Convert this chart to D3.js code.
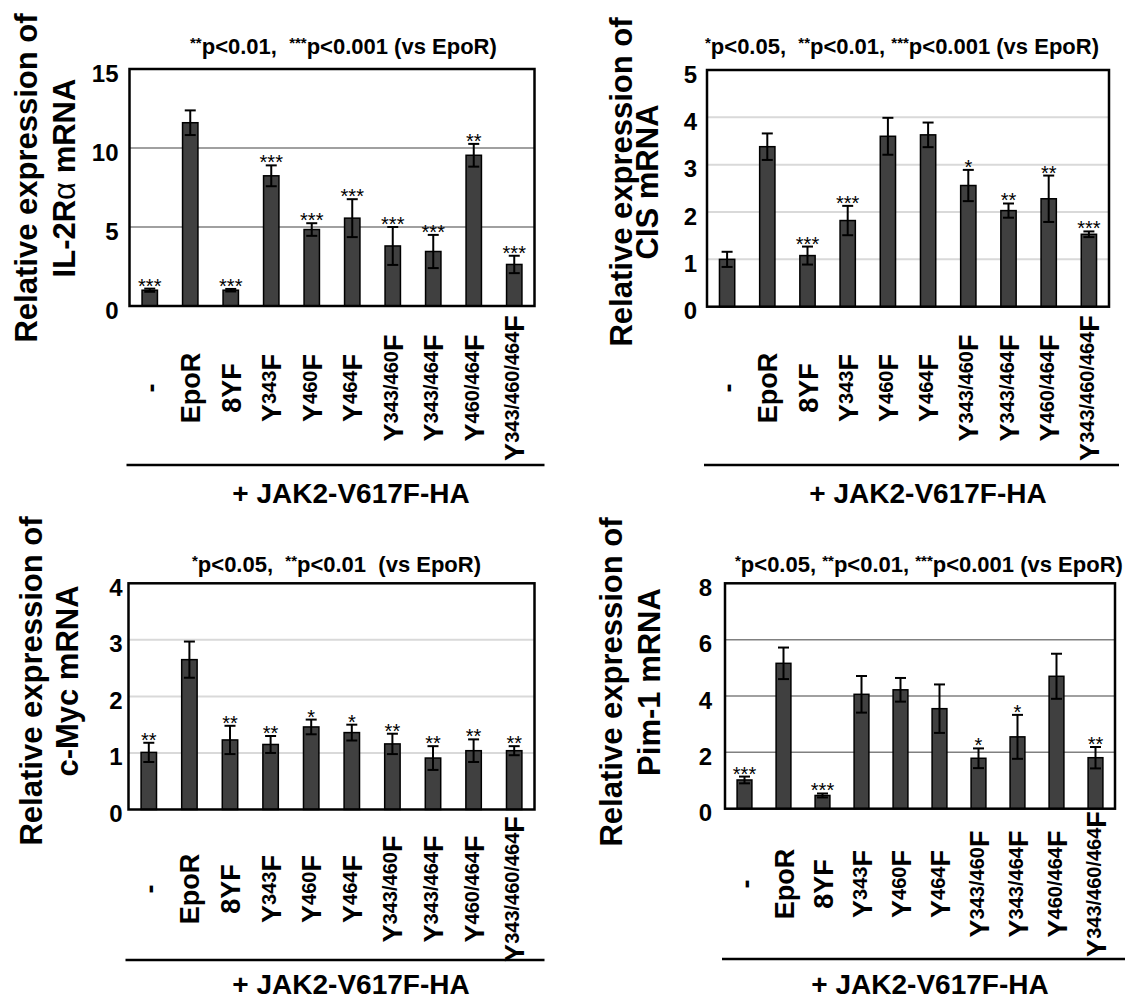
<!DOCTYPE html>
<html>
<head>
<meta charset="utf-8">
<script src="https://cdn.jsdelivr.net/npm/d3@7"></script>
<style>
  body { margin: 0; background: #fff; }
  svg { display: block; font-family: "Liberation Sans", Arial, sans-serif; }
  text { white-space: pre; }
</style>
</head>
<body>
<div id="chart"></div>
<script>
// categories (mutants), shared by all four panels
const categories = ["-", "EpoR", "8YF", "Y343F", "Y460F", "Y464F", "Y343/460F", "Y343/464F", "Y460/464F", "Y343/460/464F"];

// IL-2Ralpha
const il2raMean = [1.0, 11.6, 1.0, 8.24, 4.84, 5.56, 3.8, 3.45, 9.54, 2.63];
const il2raErr  = [0.1, 0.78, 0.08, 0.66, 0.4, 1.2, 1.2, 1.05, 0.72, 0.55];
const il2raSig  = ["***", "", "***", "***", "***", "***", "***", "***", "**", "***"];
const il2raTicks = [0, 5, 10, 15];

// CIS
const cisMean = [1.0, 3.38, 1.08, 1.82, 3.6, 3.63, 2.56, 2.03, 2.28, 1.53];
const cisErr  = [0.16, 0.28, 0.19, 0.31, 0.39, 0.26, 0.33, 0.15, 0.49, 0.06];
const cisSig  = ["", "", "***", "***", "", "", "*", "**", "**", "***"];
const cisTicks = [0, 1, 2, 3, 4, 5];

// c-Myc
const mycMean = [1.01, 2.65, 1.23, 1.15, 1.46, 1.36, 1.16, 0.91, 1.04, 1.04];
const mycErr  = [0.17, 0.32, 0.25, 0.15, 0.13, 0.14, 0.18, 0.21, 0.2, 0.08];
const mycSig  = ["**", "", "**", "**", "*", "*", "**", "**", "**", "**"];
const mycTicks = [0, 1, 2, 3, 4];

// Pim-1
const pimMean = [1.02, 5.16, 0.47, 4.06, 4.22, 3.55, 1.79, 2.55, 4.7, 1.81];
const pimErr  = [0.12, 0.56, 0.07, 0.65, 0.42, 0.86, 0.35, 0.78, 0.8, 0.38];
const pimSig  = ["***", "", "***", "", "", "", "*", "*", "", "**"];
const pimTicks = [0, 2, 4, 6, 8];

const width = 1136, height = 1000;

let svg = d3.select("#chart").append("svg")
  .attr("width", width)
  .attr("height", height)
  .attr("viewBox", `0 0 ${width} ${height}`);

svg.append("rect").attr("width", width).attr("height", height).attr("fill", "#fff");

// writes "**p<0.01, ..." with the asterisks small and raised
let addRuns = function(text, str, big, small) {
  let parts = str.split(/(\*+)/).filter(s => s.length);
  let raised = false;
  parts.forEach(s => {
    let isStar = s[0] === "*";
    let t = text.append("tspan").text(s).attr("font-size", isStar ? small : big);
    if (isStar && !raised) { t.attr("dy", -6); raised = true; }
    else if (!isStar && raised) { t.attr("dy", 6); raised = false; }
  });
};

let drawPanel = function(p) {
  let x = d3.scaleBand()
    .domain(categories)
    .range([p.left, p.right])
    .paddingInner(0.62)
    .paddingOuter(0.31);
  let y = d3.scaleLinear()
    .domain([0, d3.max(p.ticks)])
    .range([p.bottom, p.top]);
  let g = svg.append("g");

  // horizontal gridlines (not at 0 or the top)
  g.selectAll("line.grid")
    .data(p.ticks.slice(1, -1))
    .join("line")
    .attr("class", "grid")
    .attr("x1", p.left).attr("x2", p.right)
    .attr("y1", d => y(d)).attr("y2", d => y(d))
    .attr("stroke", p.gridColor)
    .attr("stroke-width", p.gridWidth);

  let rows = categories.map((c, i) => ({ c: c, v: p.mean[i], e: p.err[i], s: p.sig[i] }));

  g.selectAll("rect.bar")
    .data(rows)
    .join("rect")
    .attr("class", "bar")
    .attr("x", d => x(d.c))
    .attr("width", x.bandwidth())
    .attr("y", d => y(d.v))
    .attr("height", d => y(0) - y(d.v))
    .attr("fill", "#404040")
    .attr("stroke", "#000")
    .attr("stroke-width", 1.5);

  // error bars
  let cap = 5.5;
  let eb = g.selectAll("g.err").data(rows).join("g").attr("class", "err")
    .attr("stroke", "#000").attr("stroke-width", 2);
  eb.append("line")
    .attr("x1", d => x(d.c) + x.bandwidth() / 2).attr("x2", d => x(d.c) + x.bandwidth() / 2)
    .attr("y1", d => y(d.v - d.e)).attr("y2", d => y(d.v + d.e));
  eb.append("line")
    .attr("x1", d => x(d.c) + x.bandwidth() / 2 - cap).attr("x2", d => x(d.c) + x.bandwidth() / 2 + cap)
    .attr("y1", d => y(d.v + d.e)).attr("y2", d => y(d.v + d.e));
  eb.append("line")
    .attr("x1", d => x(d.c) + x.bandwidth() / 2 - cap).attr("x2", d => x(d.c) + x.bandwidth() / 2 + cap)
    .attr("y1", d => y(d.v - d.e)).attr("y2", d => y(d.v - d.e));

  // significance stars
  g.selectAll("text.sig")
    .data(rows.filter(d => d.s))
    .join("text")
    .attr("class", "sig")
    .attr("x", d => x(d.c) + x.bandwidth() / 2)
    .attr("y", d => y(d.v + d.e) + 4)
    .attr("text-anchor", "middle")
    .attr("font-size", 20)
    .text(d => d.s);

  // plot frame
  g.append("rect")
    .attr("x", p.left).attr("y", p.top)
    .attr("width", p.right - p.left).attr("height", p.bottom - p.top)
    .attr("fill", "none").attr("stroke", "#000").attr("stroke-width", 2.5);

  // y axis numbers
  let ax = g.append("g")
    .attr("transform", `translate(${p.left},0)`)
    .call(d3.axisLeft(y).tickValues(p.ticks).tickSize(0).tickPadding(p.tickPad).tickFormat(d3.format("d")));
  ax.select(".domain").remove();
  ax.selectAll("text")
    .attr("dy", "0.5em")
    .attr("font-size", 24)
    .attr("font-weight", "bold")
    .attr("font-family", "'Liberation Sans', Arial, sans-serif")
    .attr("fill", "#000");

  // y title, two lines
  g.append("text")
    .attr("transform", `translate(${p.yTitleX[0]},${p.yTitleY}) rotate(-90)`)
    .attr("text-anchor", "middle")
    .attr("font-size", 31).attr("font-weight", "bold")
    .text("Relative expression of");
  let yt2 = g.append("text")
    .attr("transform", `translate(${p.yTitleX[1]},${p.yTitleY}) rotate(-90)`)
    .attr("text-anchor", "middle")
    .attr("font-size", 31).attr("font-weight", "bold");
  p.gene.split(/(α)/).filter(s => s.length).forEach(s => {
    yt2.append("tspan").text(s).attr("font-weight", s === "α" ? "normal" : "bold");
  });

  // p-value note above the frame
  let note = g.append("text")
    .attr("x", p.noteX).attr("y", p.noteY)
    .attr("font-weight", "bold");
  addRuns(note, p.note, 22, 15);

  // category labels, rotated, Y + small superscript number + F
  categories.forEach(c => {
    let cx = x(c) + x.bandwidth() / 2;
    let t = g.append("text")
      .attr("transform", `translate(${cx + 10},${p.labelY}) rotate(-90)`)
      .attr("text-anchor", "middle")
      .attr("font-weight", "bold")
      .attr("font-size", 27);
    let m = c.match(/^Y([\d\/]+)F$/);
    if (m) {
      t.append("tspan").text("Y");
      t.append("tspan").text(m[1]).attr("font-size", 20).attr("dy", -5);
      t.append("tspan").text("F").attr("dy", 5);
    } else {
      t.text(c);
    }
  });

  // line and caption under the labels
  g.append("line")
    .attr("x1", p.left - 3).attr("x2", p.right + 10)
    .attr("y1", p.ruleY).attr("y2", p.ruleY)
    .attr("stroke", "#000").attr("stroke-width", 2.5);
  g.append("text")
    .attr("x", p.capX).attr("y", p.capY)
    .attr("text-anchor", "middle")
    .attr("font-size", 28).attr("font-weight", "bold")
    .text("+ JAK2-V617F-HA");
};

drawPanel({
  mean: il2raMean, err: il2raErr, sig: il2raSig, ticks: il2raTicks,
  gene: "IL-2Rα mRNA", note: "**p<0.01,  ***p<0.001 (vs EpoR)",
  left: 129.5, right: 534.5, top: 69, bottom: 306, tickPad: 11,
  gridColor: "#808080", gridWidth: 1.5,
  yTitleX: [37, 75], yTitleY: 178, noteX: 190, noteY: 54,
  labelY: 388, ruleY: 465, capX: 351, capY: 503
});

drawPanel({
  mean: cisMean, err: cisErr, sig: cisSig, ticks: cisTicks,
  gene: "CIS mRNA", note: "*p<0.05,  **p<0.01, ***p<0.001 (vs EpoR)",
  left: 707, right: 1109, top: 70, bottom: 306.7, tickPad: 10,
  gridColor: "#d9d9d9", gridWidth: 2,
  yTitleX: [632, 658], yTitleY: 182, noteX: 705, noteY: 54,
  labelY: 388, ruleY: 465, capX: 928, capY: 503
});

drawPanel({
  mean: mycMean, err: mycErr, sig: mycSig, ticks: mycTicks,
  gene: "c-Myc mRNA", note: "*p<0.05,  **p<0.01  (vs EpoR)",
  left: 128.5, right: 534.5, top: 583.3, bottom: 809.5, tickPad: 6,
  gridColor: "#d9d9d9", gridWidth: 2,
  yTitleX: [42, 78], yTitleY: 681, noteX: 192, noteY: 572,
  labelY: 889, ruleY: 960, capX: 351, capY: 994
});

drawPanel({
  mean: pimMean, err: pimErr, sig: pimSig, ticks: pimTicks,
  gene: "Pim-1 mRNA", note: "*p<0.05, **p<0.01, ***p<0.001 (vs EpoR)",
  left: 725, right: 1115, top: 583.3, bottom: 808.7, tickPad: 13,
  gridColor: "#808080", gridWidth: 1.5,
  yTitleX: [622, 660], yTitleY: 682, noteX: 735, noteY: 572,
  labelY: 884, ruleY: 959, capX: 930, capY: 994
});
</script>
</body>
</html>
